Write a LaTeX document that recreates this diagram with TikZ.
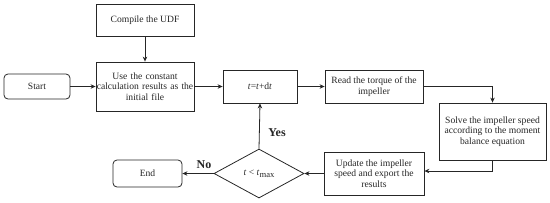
\documentclass[tikz,border=0pt]{standalone}
\usepackage{fontspec}
\setmainfont{Liberation Serif}
\usetikzlibrary{arrows.meta,shapes.geometric}
\begin{document}
\begin{tikzpicture}[x=1pt,y=-1pt,
  every node/.style={font=\fontsize{9.6}{10.5}\selectfont, text=black!85},
  box/.style={draw=black!85, line width=0.8pt, inner sep=0pt, align=center},
  rbox/.style={box, rounded corners=4pt},
  dec/.style={draw=black!85, line width=0.8pt, diamond, inner sep=0pt, aspect=1.84},
  arr/.style={draw=black!85, line width=0.8pt, -{Stealth[length=5pt,width=4.5pt]}},
  lbl/.style={font=\fontsize{12}{14}\selectfont\bfseries}]
\useasboundingbox (0,0) rectangle (550,202);
\node[box, minimum width=98pt, minimum height=32pt] (compile) at (145,20) {Compile the UDF};
\node[box, minimum width=98pt, minimum height=49pt, text width=98pt] (use) at (145,86.5) {Use the constant\\calculation results as the\\initial file};
\node[rbox, minimum width=66pt, minimum height=25pt] (start) at (37,86.5) {Start};
\node[box, minimum width=74pt, minimum height=33pt] (tstep) at (260,86.5) {\textit{t}=\textit{t}+d\textit{t}};
\node[box, minimum width=98pt, minimum height=33pt] (read) at (374,86.5) {Read the torque of the\\impeller};
\node[box, minimum width=107pt, minimum height=57pt] (solve) at (492.5,131.5) {Solve the impeller speed\\according to the moment\\balance equation};
\node[box, minimum width=100pt, minimum height=43pt] (update) at (374,173.5) {Update the impeller\\speed and export the\\results};
\node[dec, minimum width=90pt, minimum height=49pt] (dia) at (259,173.5) {\textit{t} < \textit{t}\raisebox{-2.2pt}{\fontsize{8.6}{9}\selectfont max}};
\node[rbox, minimum width=69pt, minimum height=27pt] (end) at (147.5,173.5) {End};
\coordinate (upin) at ([yshift=2.5pt]update.east);
\draw[arr] (compile.south) -- (use.north);
\draw[arr] (start.east) -- (use.west);
\draw[arr] (use.east) -- (tstep.west);
\draw[arr] (tstep.east) -- (read.west);
\draw[arr] (read.east) -| (solve.north);
\draw[arr] (solve.south) |- (upin);
\draw[arr] (update.west) -- (dia.east);
\draw[arr] (dia.west) -- (end.east);
\draw[arr] (dia.north) -- (tstep.south);
\node[lbl] (no) at (204,165) {No};
\node[lbl] (yes) at (277,133) {Yes};
\end{tikzpicture}
\end{document}
